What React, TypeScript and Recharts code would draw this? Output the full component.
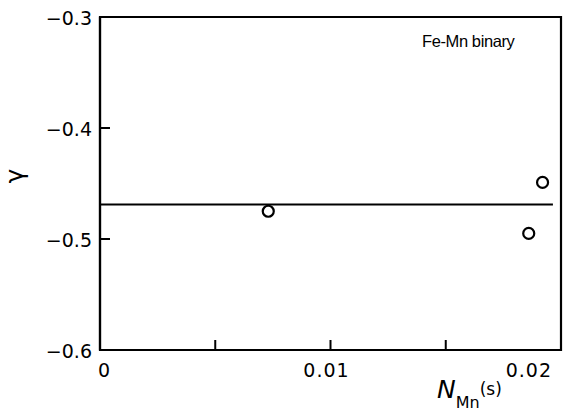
import {
  ComposedChart,
  ReferenceArea,
  Scatter,
  XAxis,
  YAxis,
} from "recharts";

// measured points (N_Mn(s), gamma)
const mnFraction = [0.0073, 0.0192, 0.0186];
const gammaValues = [-0.475, -0.449, -0.495];

// horizontal mean line
const fitX = [0, 0.01965];
const fitY = [-0.469, -0.469];

const xTicks = [0, 0.005, 0.01, 0.015, 0.02];
const xLabels = ["0", "", "0.01", "", "0.02"];
const yTicks = [-0.6, -0.5, -0.4, -0.3];

const points = mnFraction.map((x, i) => ({ x, y: gammaValues[i] }));
const fitLine = fitX.map((x, i) => ({ x, y: fitY[i] }));

const FONT = "'DejaVu Sans', sans-serif";

function XTick(props: any) {
  const { x, y, index } = props;
  const label = xLabels[index];
  if (!label) return <g />;
  let anchor: "start" | "middle" | "end" = "middle";
  let dx = -4;
  if (index === 0) {
    anchor = "start";
    dx = -2;
  } else if (index === xLabels.length - 1) {
    anchor = "end";
    dx = 1;
  }
  return (
    <text
      x={x + dx}
      y={y + 17}
      textAnchor={anchor}
      fontFamily={FONT}
      fontSize={19}
      letterSpacing={1}
      fill="#000"
    >
      {label}
    </text>
  );
}

function YTick(props: any) {
  const { x, y, payload } = props;
  const label = payload.value.toFixed(1).replace("-", "\u2212");
  return (
    <text
      x={x}
      y={y + 8}
      textAnchor="end"
      fontFamily={FONT}
      fontSize={19}
      fill="#000"
    >
      {label}
    </text>
  );
}

function XLabel(props: any) {
  const { viewBox } = props;
  const x = viewBox.x + viewBox.width - 124;
  return (
    <text x={x} y={398} fontFamily={FONT} fill="#000">
      <tspan fontSize={25} fontStyle="italic">N</tspan>
      <tspan fontSize={16} dy={10}>Mn</tspan>
      <tspan fontSize={17} dy={-13}>(s)</tspan>
    </text>
  );
}

function Circle(props: any) {
  const { cx, cy } = props;
  return <circle cx={cx} cy={cy} r={5.5} fill="#fff" stroke="#000" strokeWidth={2.2} />;
}

function NoShape() {
  return <g />;
}

export default function App() {
  return (
    <div style={{ position: "fixed", left: 0, top: 0, width: 565, height: 416, background: "#fff" }}>
      <ComposedChart
        width={565}
        height={416}
        margin={{ top: 17, right: 4, left: 0, bottom: 0 }}
      >
        <XAxis
          dataKey="x"
          type="number"
          domain={[0, 0.02]}
          ticks={xTicks}
          tick={<XTick />}
          tickSize={-10}
          tickMargin={20}
          tickLine={{ stroke: "#000", strokeWidth: 2 }}
          axisLine={{ stroke: "#000", strokeWidth: 2.2 }}
          height={66}
          allowDataOverflow
          label={<XLabel />}
        />
        <YAxis
          dataKey="y"
          type="number"
          domain={[-0.6, -0.3]}
          ticks={yTicks}
          tick={<YTick />}
          tickSize={-10}
          tickMargin={18}
          tickLine={{ stroke: "#000", strokeWidth: 2 }}
          axisLine={{ stroke: "#000", strokeWidth: 2.2 }}
          width={100}
          allowDataOverflow
          label={{
            value: "γ",
            angle: -90,
            position: "insideLeft",
            offset: 14,
            style: { fontFamily: FONT, fontSize: 25, fill: "#000" },
          }}
        />
        {/* frame around the plot */}
        <ReferenceArea
          x1={0}
          x2={0.02}
          y1={-0.6}
          y2={-0.3}
          fill="none"
          stroke="#000"
          strokeWidth={2.2}
          fillOpacity={0}
          ifOverflow="visible"
        />
        <Scatter
          data={fitLine}
          line={{ stroke: "#000", strokeWidth: 2 }}
          shape={<NoShape />}
          isAnimationActive={false}
          legendType="none"
        />
        <Scatter
          data={points}
          shape={<Circle />}
          isAnimationActive={false}
          legendType="none"
        />
      </ComposedChart>
      <div
        style={{
          position: "absolute",
          left: 422,
          top: 32,
          fontFamily: "'Liberation Sans', Arial, sans-serif",
          fontSize: 16.5,
          letterSpacing: -0.4,
          color: "#000",
          whiteSpace: "nowrap",
        }}
      >
        Fe-Mn binary
      </div>
    </div>
  );
}
